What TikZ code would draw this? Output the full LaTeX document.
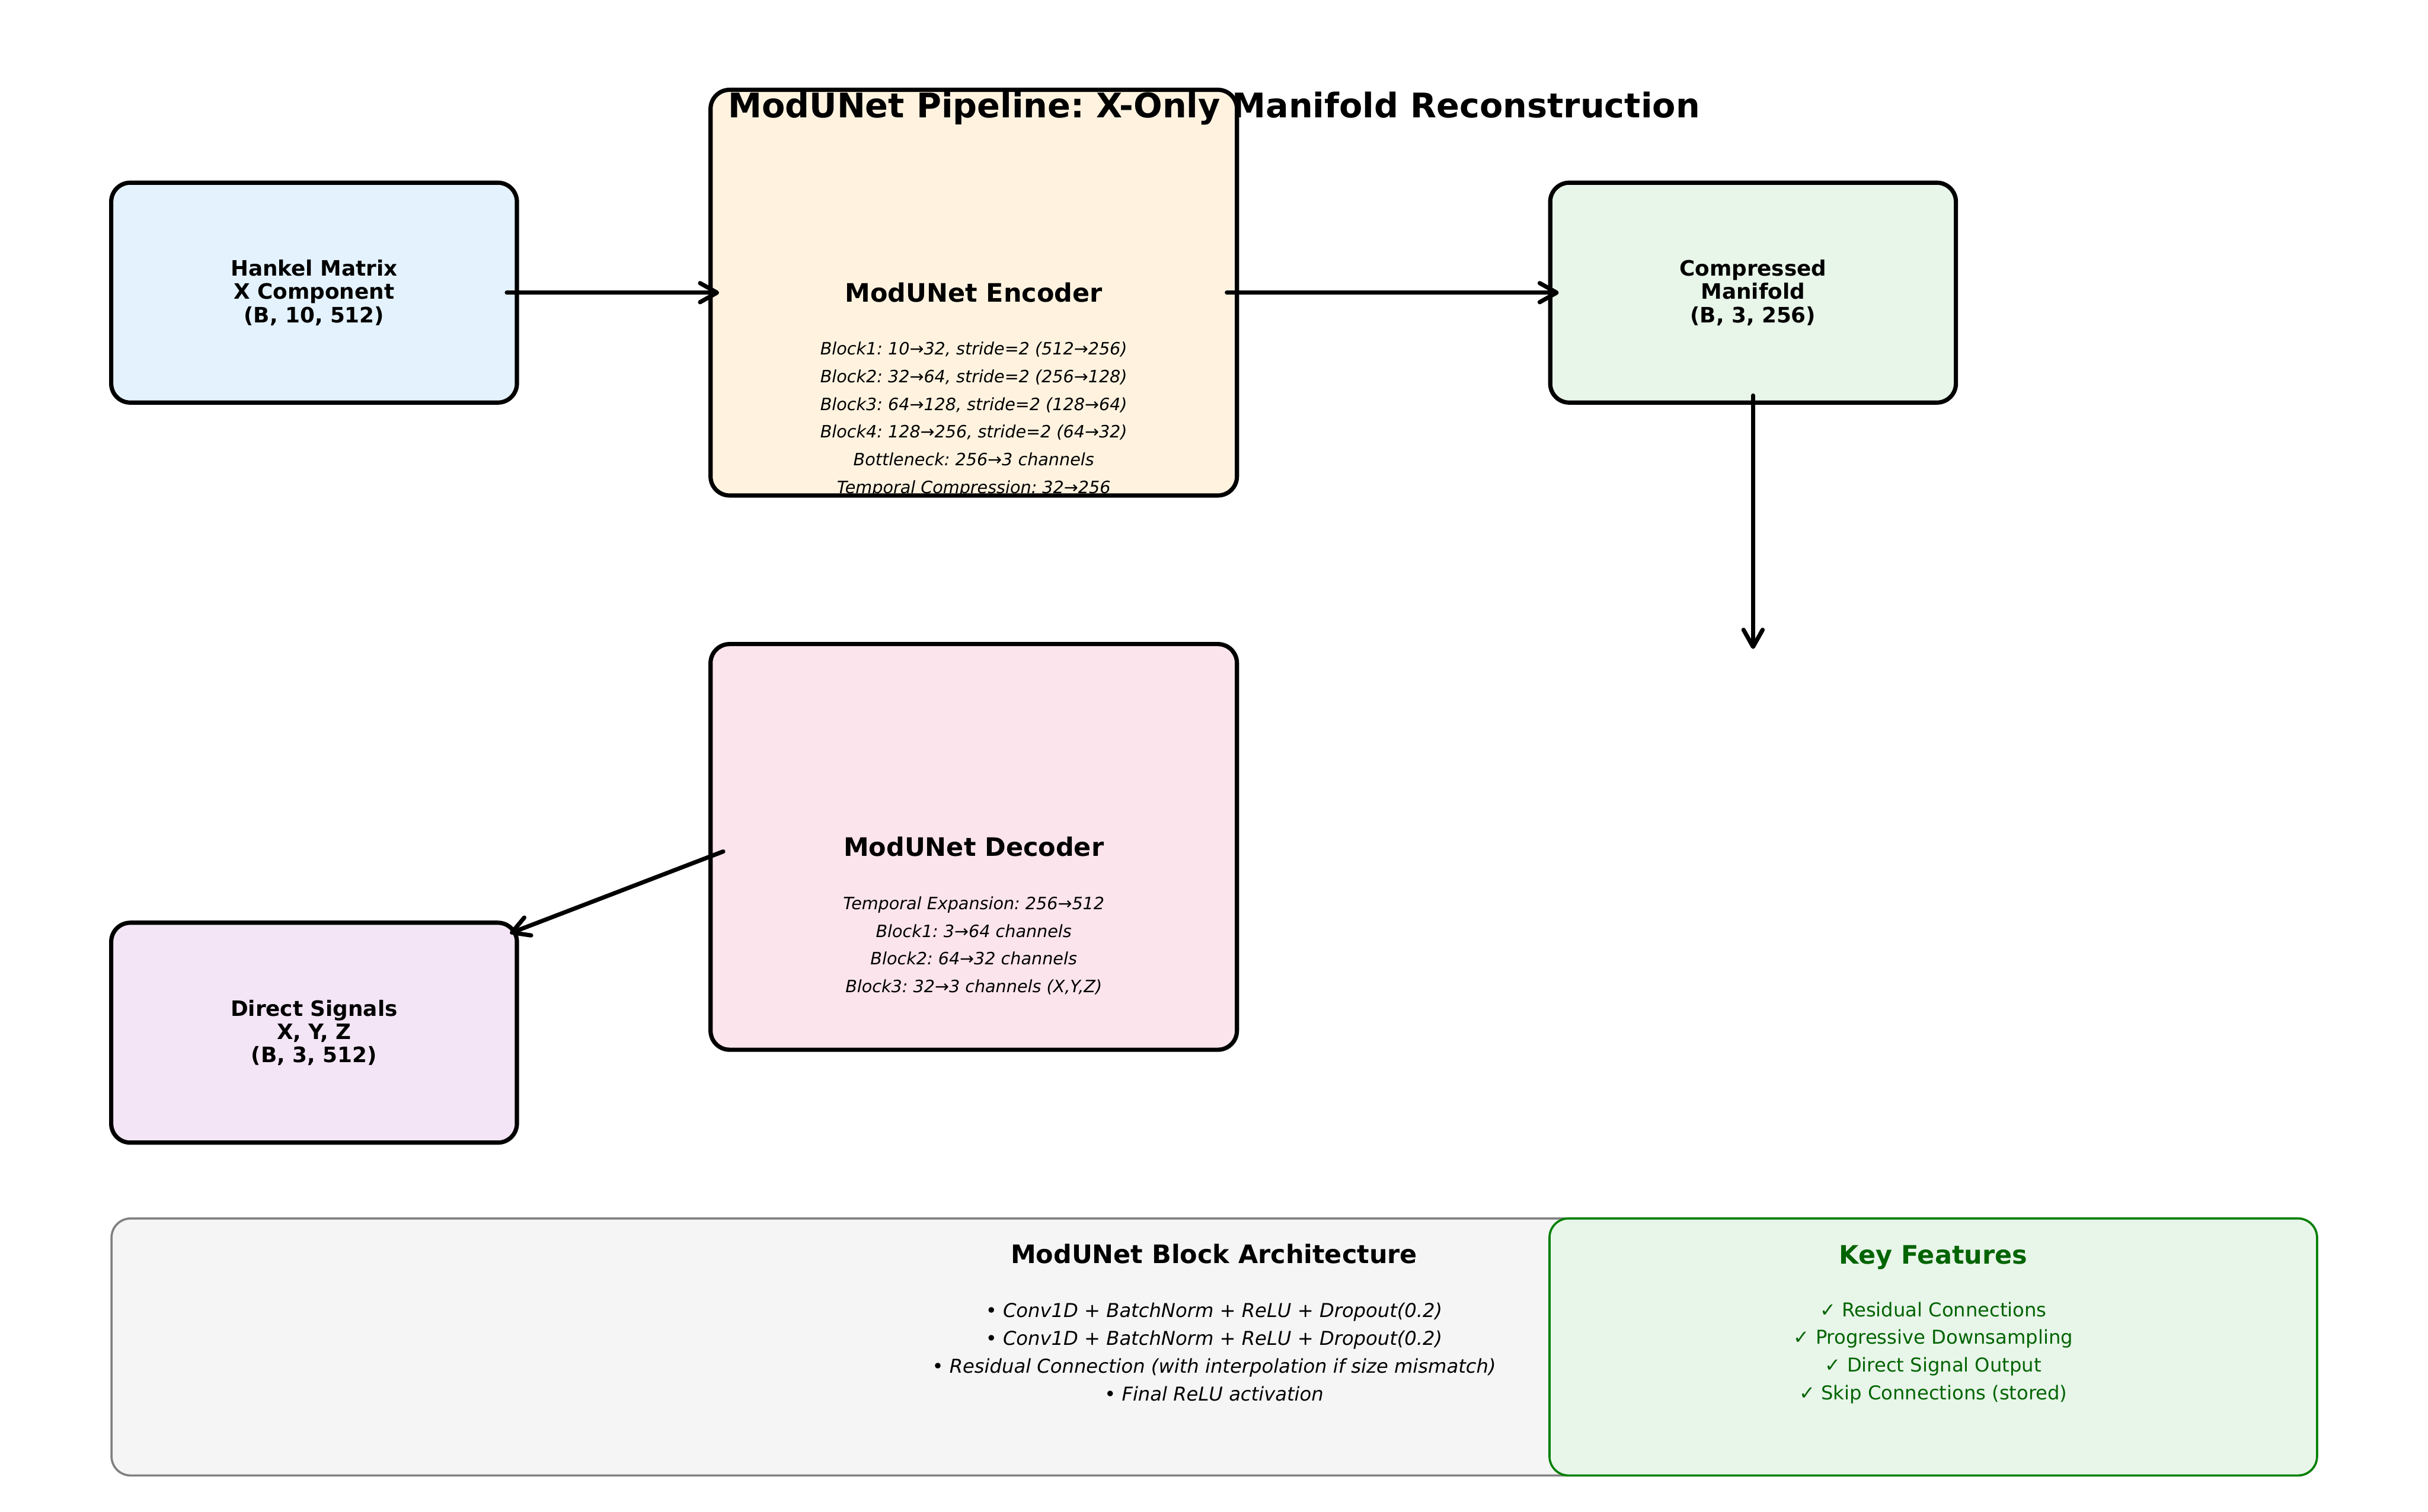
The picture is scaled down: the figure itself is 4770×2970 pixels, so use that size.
\documentclass[tikz,border=0pt]{standalone}
\usepackage{fontspec}
\setmainfont{DejaVu Sans}
\frenchspacing
\usetikzlibrary{calc}
\usetikzlibrary{arrows.meta}
\definecolor{hankelblue}{HTML}{E3F2FD}
\definecolor{encorange}{HTML}{FFF3E0}
\definecolor{mangreen}{HTML}{E8F5E9}
\definecolor{decpink}{HTML}{FCE4EC}
\definecolor{outpurple}{HTML}{F3E5F5}
\definecolor{panelgray}{HTML}{F5F5F5}
\definecolor{panelline}{HTML}{808080}
\definecolor{featline}{HTML}{008000}
\definecolor{feattext}{HTML}{006400}
\tikzset{
  stagebox/.style={draw=black, line width=2pt, rounded corners=9pt, align=center, font=\bfseries\fontsize{10}{11}\selectfont},
  smallbox/.style={stagebox, minimum width=191.3pt, minimum height=103.7pt},
  bigbox/.style={stagebox, minimum width=248.2pt, minimum height=191.3pt, font=\bfseries\fontsize{12}{14}\selectfont},
  layerlist/.style={align=center, font=\itshape\fontsize{8}{13.1}\selectfont},
  panel/.style={line width=1pt, rounded corners=9pt, minimum height=121.2pt},
  paneltitle/.style={font=\bfseries\fontsize{12}{14}\selectfont},
  panellist/.style={align=center, font=\fontsize{9}{13.1}\selectfont},
  flow/.style={line width=2pt, line cap=round, -{Straight Barb[length=8pt,width=9pt,round]}}
}
\begin{document}
\begin{tikzpicture}[x=0.24pt, y=-0.24pt]
    \useasboundingbox (0,0) rectangle (4770,2970);
    %pipeline stages
    \node[smallbox, fill=hankelblue] (hankel) at (617,575) {Hankel Matrix\\X Component\\(B, 10, 512)};
    \node[bigbox, fill=encorange] (enc) at (1913,575) {ModUNet Encoder};
    \node[layerlist] (enclayers) at (1913,824) {Block1: 10→32, stride=2 (512→256)\\Block2: 32→64, stride=2 (256→128)\\Block3: 64→128, stride=2 (128→64)\\Block4: 128→256, stride=2 (64→32)\\Bottleneck: 256→3 channels\\Temporal Compression: 32→256};
    \node[smallbox, fill=mangreen] (manifold) at (3444,575) {Compressed\\Manifold\\(B, 3, 256)};
    \node[bigbox, fill=decpink] (dec) at (1913,1664) {ModUNet Decoder};
    \node[layerlist] (declayers) at (1913,1858) {Temporal Expansion: 256→512\\Block1: 3→64 channels\\Block2: 64→32 channels\\Block3: 32→3 channels (X,Y,Z)};
    \node[smallbox, fill=outpurple] (signals) at (617,2029) {Direct Signals\\X, Y, Z\\(B, 3, 512)};
    \coordinate (recon) at (3444,1275);
    %title
    \node[font=\bfseries\fontsize{16}{19}\selectfont] (title) at (2385,213) {ModUNet Pipeline: X-Only Manifold Reconstruction};
    %arrows
    \draw[flow] ($(hankel.east)+(-24,0)$) -- ($(enc.west)+(21,0)$);
    \draw[flow] ($(enc.east)+(-24,0)$) -- ($(manifold.west)+(21,0)$);
    \draw[flow] ($(manifold.south)+(0,-18)$) -- (recon);
    \draw[flow] ($(dec.west)+(29,9)$) -- ($(signals.north east)+(-18,25)$);
    %bottom panels
    \node[panel, draw=panelline, fill=panelgray, minimum width=1039.9pt] (blockpanel) at (2385.5,2646.5) {};
    \node[paneltitle] (blocktitle) at (2385,2464) {ModUNet Block Architecture};
    \node[panellist, font=\itshape\fontsize{9}{13.1}\selectfont] (blocklist) at (2385,2656) {• Conv1D + BatchNorm + ReLU + Dropout(0.2)\\• Conv1D + BatchNorm + ReLU + Dropout(0.2)\\• Residual Connection (with interpolation if size mismatch)\\• Final ReLU activation};
    \node[panel, draw=featline, fill=mangreen, minimum width=361.9pt] (featpanel) at (3798,2646.5) {};
    \node[paneltitle, text=feattext] (feattitle) at (3798,2470) {Key Features};
    \node[panellist, text=feattext] (featlist) at (3798,2658) {✓ Residual Connections\\✓ Progressive Downsampling\\✓ Direct Signal Output\\✓ Skip Connections (stored)};
\end{tikzpicture}
\end{document}
